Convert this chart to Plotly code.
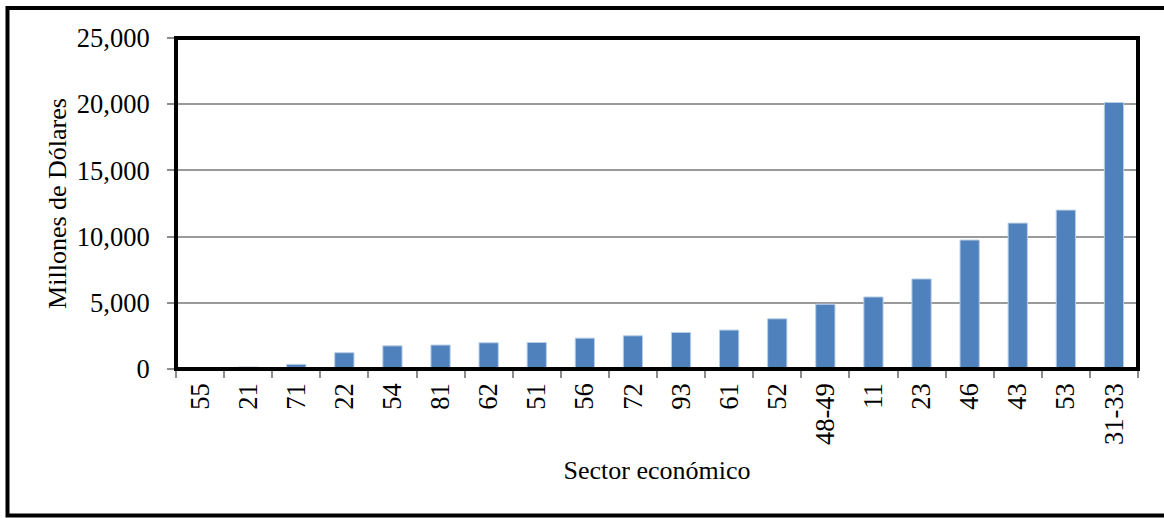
import plotly.graph_objects as go

sectors = ["55", "21", "71", "22", "54", "81", "62", "51", "56", "72", "93",
           "61", "52", "48-49", "11", "23", "46", "43", "53", "31-33"]
values = [30, 150, 350, 1230, 1750, 1810, 1980, 2000, 2330, 2510, 2760,
          2940, 3790, 4890, 5440, 6800, 9740, 11020, 12000, 20130]
y_ticks = [0, 5000, 10000, 15000, 20000, 25000]
y_tick_labels = ["0", "5,000", "10,000", "15,000", "20,000", "25,000"]

W, H = 1164, 518
L, R, T, B = 176, 1138, 38, 369
pw, ph = R - L, B - T

def px(x):
    return (x - L) / pw

def py(y):
    return (B - y) / ph

FONT = "Liberation Serif, Times New Roman, serif"

fig = go.Figure(go.Bar(
    x=sectors, y=values,
    marker=dict(color="#4f81bd", line=dict(color="#b9cde5", width=1)),
))

fig.update_layout(
    width=W, height=H,
    margin=dict(l=L, r=W - R, t=T, b=H - B, pad=0),
    paper_bgcolor="white", plot_bgcolor="white",
    font=dict(family=FONT, color="black", size=26),
    bargap=0.6,
    showlegend=False,
    xaxis=dict(
        type="category",
        tickangle=-90,
        ticks="outside", ticklen=8, tickwidth=1.5, tickcolor="#8c8c8c",
        tickson="boundaries",
        showgrid=False, showline=False,
        tickfont=dict(size=26.5),
        ticklabelstandoff=8,
        title=dict(text="Sector económico", font=dict(size=26), standoff=16),
        automargin=False,
    ),
    yaxis=dict(
        range=[0, 25000],
        tickvals=y_ticks, ticktext=y_tick_labels,
        ticks="outside", ticklen=8, tickwidth=1.5, tickcolor="#8c8c8c",
        showgrid=True, gridcolor="#9a9a9a", gridwidth=1.5,
        zeroline=False, showline=False,
        tickfont=dict(size=26.5),
        ticklabelstandoff=12,
        title=dict(text="Millones de Dólares", font=dict(size=26), standoff=2),
        automargin=False,
    ),
    shapes=[
        # plot frame
        dict(type="rect", xref="paper", yref="paper", x0=0, x1=1, y0=0, y1=1,
             line=dict(color="black", width=4), layer="above"),
        # outer chart border
        dict(type="rect", xref="paper", yref="paper",
             x0=px(7.5), x1=px(1175), y0=py(515.5), y1=py(8),
             line=dict(color="black", width=4), layer="above"),
    ],
)

fig.write_html(
    "out.html",
    config={"displayModeBar": False},
    post_script="document.body.style.margin='0';document.body.style.padding='0';",
)
